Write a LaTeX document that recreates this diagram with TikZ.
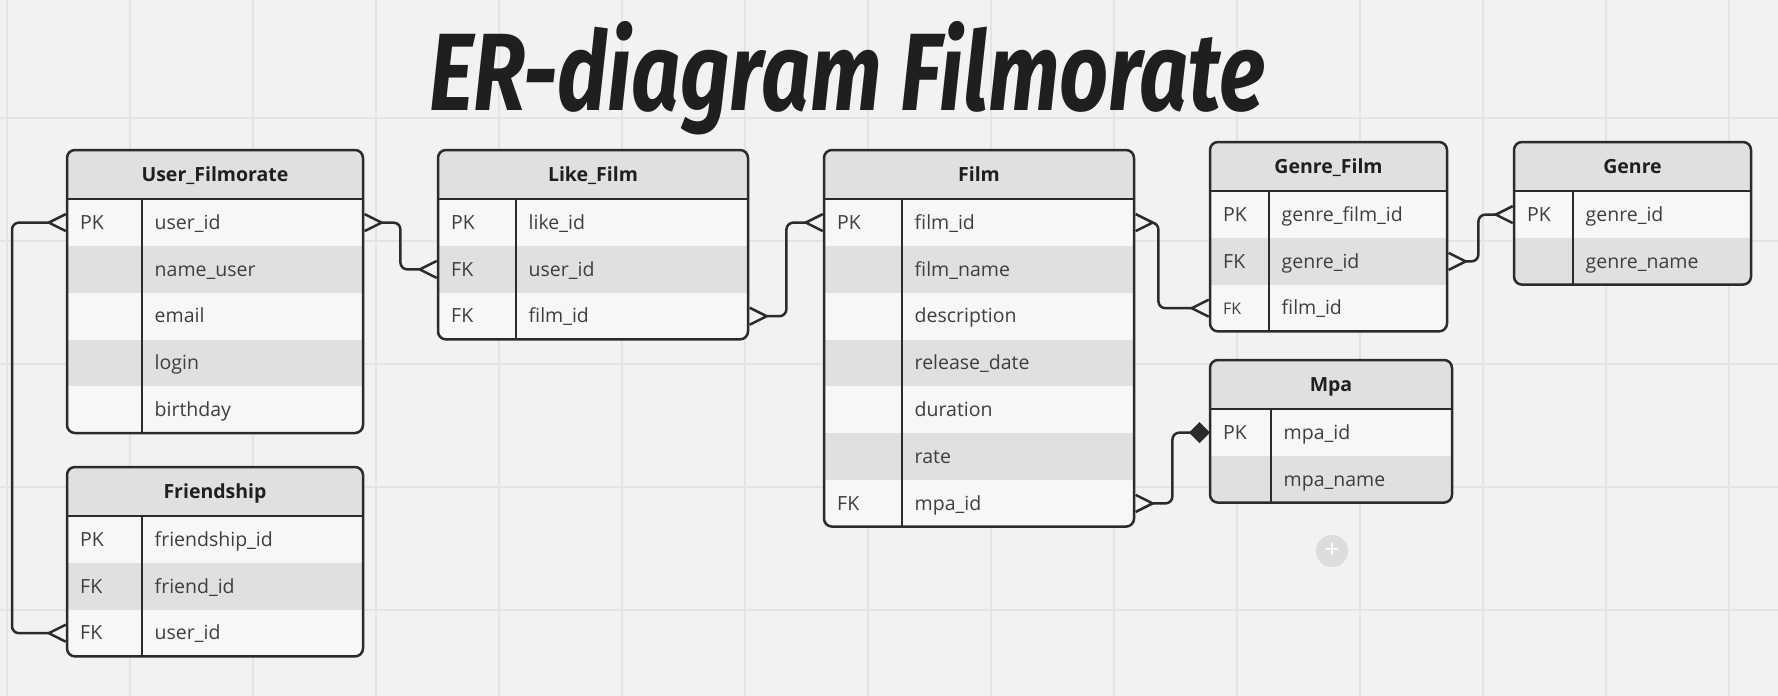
\documentclass[tikz,border=0pt]{standalone}
\usepackage{fontspec}
\setmainfont{Open Sans}
\newfontfamily\titlefont{Fira Sans}
\usetikzlibrary{arrows.meta,positioning}

\definecolor{bgcol}{HTML}{F2F2F2}
\definecolor{gridcol}{HTML}{E4E4E4}
\definecolor{headcol}{HTML}{E0E0E0}
\definecolor{rowlight}{HTML}{F7F7F7}
\definecolor{rowdark}{HTML}{E0E0E0}
\definecolor{edgecol}{HTML}{2B2B2B}
\definecolor{txtcol}{HTML}{3E3E3E}
\definecolor{btncol}{HTML}{DCDCDC}

\tikzset{
  tblborder/.style = {draw=edgecol, line width=2.5pt, rounded corners=8pt},
  rowbox/.style = {rectangle, inner sep=0pt, minimum width=#1, minimum height=46.8pt, anchor=north west},
  celltext/.style = {anchor=west, inner sep=0pt, text height=13.9pt, text depth=0pt, text=txtcol, font=\fontsize{19.5}{20}\selectfont},
  headtext/.style = {inner sep=0pt, text height=14pt, text depth=0pt, text=black!88, font=\fontsize{19.5}{20}\selectfont\bfseries},
  conn/.style = {draw=edgecol, line width=2.5pt, rounded corners=7pt},
  crow/.tip = {Straight Barb[reversed, length=17pt, width=17pt]},
  mdiam/.tip = {Diamond[length=21pt, width=21pt]},
}

% one table: name, top left corner, width, key column width, rows, title, rows
\newcommand{\ertable}[7]{%
  \begin{scope}[shift={#2}]
    \begin{scope}
      \clip[rounded corners=8pt] (0,0) rectangle (#3,49+46.8*#5);
      \fill[headcol] (0,0) rectangle (#3,49);
      \foreach \k/\f [count=\i] in {#7} {
        \ifodd\i \def\rowcol{rowlight}\else \def\rowcol{rowdark}\fi
        \node[rowbox=#3, fill=\rowcol] (#1-\i) at (0,49+46.8*\i-46.8) {};
        \node[celltext] at (13,72.4+46.8*\i-46.8) {\k};
        \node[celltext] at (#4+12.5,72.4+46.8*\i-46.8) {\f};
      }
    \end{scope}
    \draw[edgecol, line width=2.5pt] (#4,49) -- (#4,49+46.8*#5);
    \draw[edgecol, line width=2.5pt] (0,49) -- (#3,49);
    \draw[tblborder] (0,0) rectangle (#3,49+46.8*#5);
    \node[headtext] (#1-head) at (#3/2,24.5) {#6};
  \end{scope}
}

\begin{document}
\begin{tikzpicture}[x=1pt, y=-1pt]
    \useasboundingbox (0,0) rectangle (1778,696);
    \fill[bgcol] (0,0) rectangle (1778,696);
    \foreach \gx in {7,130,...,1729}
        \draw[gridcol, line width=1.5pt] (\gx,0) -- (\gx,696);
    \foreach \gy in {118,241,...,610}
        \draw[gridcol, line width=1.5pt] (0,\gy) -- (1778,\gy);

    \node[anchor=base, text=black!88, font=\titlefont\fontsize{110}{110}\selectfont\bfseries\itshape] (title) at (847,110) {\scalebox{0.78}[1]{ER-diagram Filmorate}};

    \ertable{user}{(67,150)}{296}{75}{5}{User\_Filmorate}{PK/user\_id, /name\_user, /email, /login, /birthday}
    \ertable{friend}{(67,467)}{296}{75}{3}{Friendship}{PK/friendship\_id, FK/friend\_id, FK/user\_id}
    \ertable{like}{(438,150)}{310}{78}{3}{Like\_Film}{PK/like\_id, FK/user\_id, FK/film\_id}
    \ertable{film}{(824,150)}{310}{78}{7}{Film}{PK/film\_id, /film\_name, /description, /release\_date, /duration, /rate, FK/mpa\_id}
    \ertable{genfilm}{(1210,142)}{237}{59}{3}{Genre\_Film}{PK/genre\_film\_id, FK/genre\_id, {\fontsize{16}{16}\selectfont FK}/film\_id}
    \ertable{genre}{(1514,142)}{237}{59}{2}{Genre}{PK/genre\_id, /genre\_name}
    \ertable{mpa}{(1210,360)}{242}{61}{2}{Mpa}{PK/mpa\_id, /mpa\_name}

    \node[circle, fill=btncol, minimum size=32pt, inner sep=0pt, text=white, font=\fontsize{26}{26}\selectfont] (addbtn) at (1332,551) {+};

    % relations
    \draw[conn, crow-crow] (user-1.west) -- ++(-55,0) |- (friend-3.west);
    \draw[conn, crow-crow] (user-1.east) -- ++(37,0) |- (like-2.west);
    \draw[conn, crow-crow] (like-3.east) -- ++(38,0) |- (film-1.west);
    \draw[conn, crow-crow] (film-1.east) -- ++(24,0) |- (genfilm-3.west);
    \draw[conn, crow-crow] (genfilm-2.east) -- ++(31,0) |- (genre-1.west);
    \draw[conn, crow-mdiam] (film-7.east) -- ++(38,0) |- (mpa-1.west);
\end{tikzpicture}
\end{document}
